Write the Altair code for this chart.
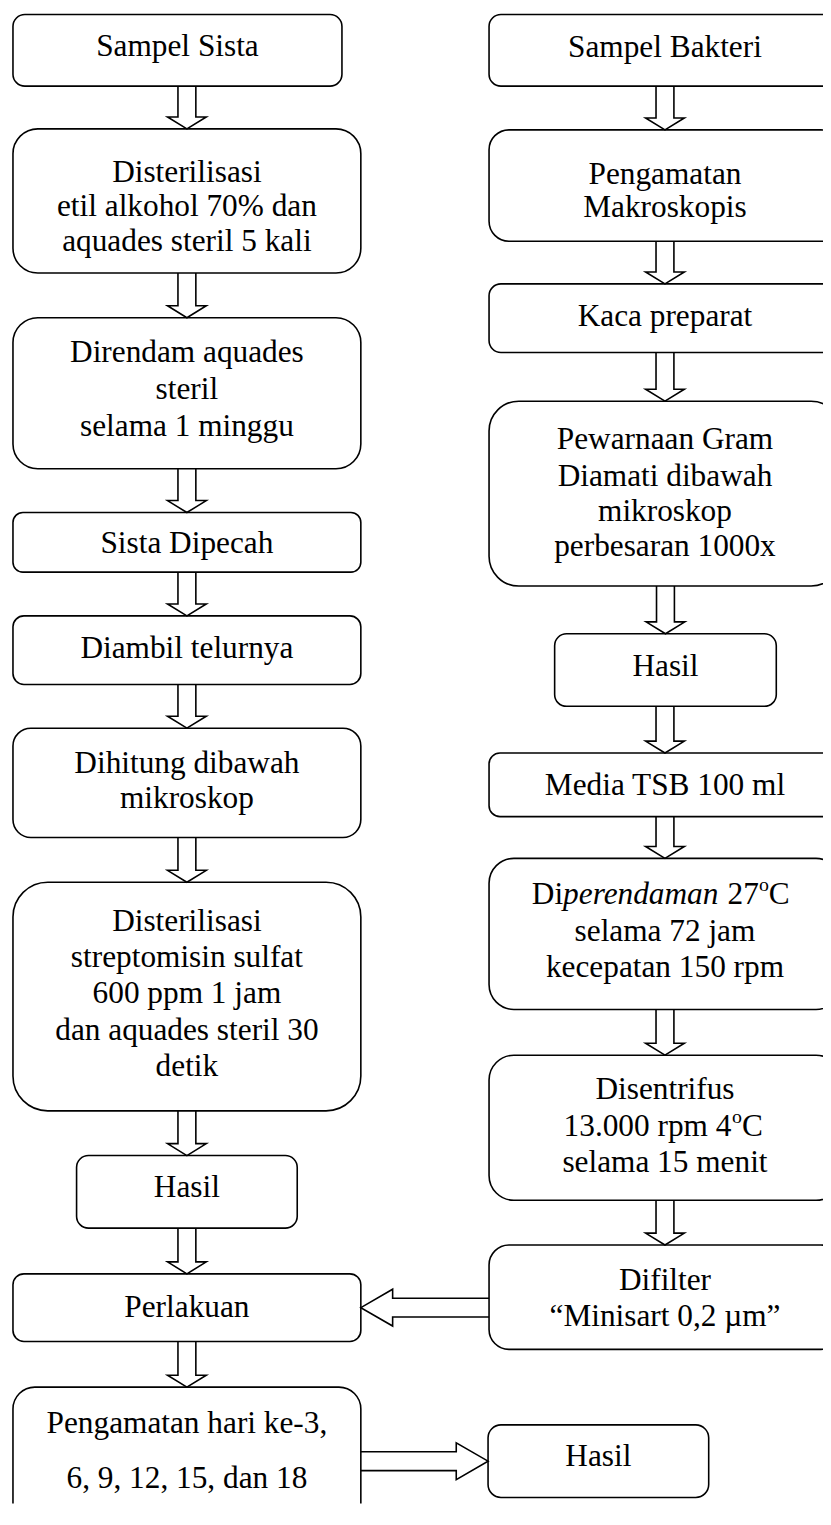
import altair as alt
import pandas as pd

FONT = "Liberation Serif"
FS = 31.5

# ---------------- flowchart content ----------------
box_lines = [
    ["Sampel Sista"],
    ["Disterilisasi", "etil alkohol 70% dan", "aquades steril 5 kali"],
    ["Direndam aquades", "steril", "selama 1 minggu"],
    ["Sista Dipecah"],
    ["Diambil telurnya"],
    ["Dihitung dibawah", "mikroskop"],
    ["Disterilisasi", "streptomisin sulfat", "600 ppm 1 jam", "dan aquades steril 30", "detik"],
    ["Hasil"],
    ["Perlakuan"],
    ["Pengamatan hari ke-3,", "6, 9, 12, 15, dan 18"],
    ["Sampel Bakteri"],
    ["Pengamatan", "Makroskopis"],
    ["Kaca preparat"],
    ["Pewarnaan Gram", "Diamati dibawah", "mikroskop", "perbesaran 1000x"],
    ["Hasil"],
    ["Media TSB 100 ml"],
    [None, "selama 72 jam", "kecepatan 150 rpm"],
    ["Disentrifus", None, "selama 15 menit"],
    ["Difilter", "\u201cMinisart 0,2 \u00b5m\u201d"],
    ["Hasil"],
]

# mixed-style lines (text, style)
rich_lines = [
    [("Di", "normal"), ("perendaman", "italic"), ("27", "normal"), ("o", "sup"), ("C", "normal")],
    [("13.000 rpm 4", "normal"), ("o", "sup"), ("C", "normal")],
]

# ---------------- layout ----------------
box_x0 = [13, 13, 13, 13, 13, 13, 13, 77, 13, 13, 492, 492, 492, 492, 558, 492, 492, 492, 492, 491]
box_x1 = [344, 363, 363, 363, 363, 363, 363, 299, 363, 363, 846, 846, 846, 846, 781, 846, 846, 846, 846, 713]
box_y0 = [10, 125, 315, 511, 615, 728, 883, 1158, 1277, 1391, 10, 126, 281, 399, 633, 753, 859, 1057, 1248, 1429]
box_y1 = [82, 270, 467, 571, 684, 838, 1113, 1231, 1345, 1560, 82, 238, 350, 585, 706, 817, 1011, 1203, 1353, 1502]
box_r = [12, 25, 25, 10, 11, 18, 35, 12, 11, 22, 12, 20, 12, 30, 12, 11, 25, 25, 20, 13]
line_base = [[52], [178, 213, 248], [360, 397, 434], [552], [657], [773, 808],
             [932, 968, 1005, 1042, 1078], [1200], [1320], [1437, 1492],
             [53], [180, 214], [323], [447, 484, 520, 555], [675], [795],
             [905, 942, 978], [1101, 1138, 1175], [1293, 1329], [1470]]
rich_x = [[535, 566.5, 732, 763.5, 773.5], [567, 736.5, 746.5]]
rich_y = [905, 1138]

arrow_from = [0, 1, 2, 3, 4, 5, 6, 7, 8, 10, 11, 12, 13, 14, 15, 16, 17, 18, 9]
arrow_to = [1, 2, 3, 4, 5, 6, 7, 8, 9, 11, 12, 13, 14, 15, 16, 17, 18, 8, 19]

# ---------------- build tables ----------------
boxes = pd.DataFrame({"x0": box_x0, "x1": box_x1, "y0": box_y0, "y1": box_y1, "r": box_r})

rows = []
for i, lines in enumerate(box_lines):
    cx = (box_x0[i] + box_x1[i]) / 2
    for t, b in zip(lines, line_base[i]):
        if t is not None:
            rows.append({"x": cx, "y": b, "t": t})
texts = pd.DataFrame(rows)

rrows = []
for k, pieces in enumerate(rich_lines):
    for (t, st), xx in zip(pieces, rich_x[k]):
        yy = rich_y[k] - 13 if st == "sup" else rich_y[k]
        rrows.append({"x": xx, "y": yy, "t": t, "s": st})
rich = pd.DataFrame(rrows)

prow = []
for a, (f, t) in enumerate(zip(arrow_from, arrow_to)):
    fx0, fx1, fy0, fy1 = box_x0[f], box_x1[f], box_y0[f], box_y1[f]
    tx0, tx1, ty0, ty1 = box_x0[t], box_x1[t], box_y0[t], box_y1[t]
    if fy1 <= ty0:  # vertical, downward
        cx = (tx0 + tx1) / 2
        s, e = fy1, ty0
        sw, hw, hl = 9, 19.5, 12
        base = e - hl
        pts = [(cx - sw, s), (cx - sw, base), (cx - hw, base), (cx, e),
               (cx + hw, base), (cx + sw, base), (cx + sw, s)]
    else:  # horizontal
        cy = (ty0 + ty1) / 2
        if fx0 >= tx1:
            s, e, d = fx0, tx1, -1
        else:
            s, e, d = fx1, tx0, 1
        sw, hw, hl = 9.5, 18.5, 32
        base = e - d * hl
        pts = [(s, cy - sw), (base, cy - sw), (base, cy - hw), (e, cy),
               (base, cy + hw), (base, cy + sw), (s, cy + sw)]
    for j, (px, py) in enumerate(pts):
        prow.append({"a": a, "j": j, "x": px, "y": py})
arrows = pd.DataFrame(prow)

# ---------------- chart ----------------
xs = alt.Scale(domain=[8, 828], nice=False, zero=False)
ys = alt.Scale(domain=[8, 1508], nice=False, zero=False, reverse=True)

layers = []
for r in sorted(set(box_r)):
    layers.append(
        alt.Chart(boxes[boxes.r == r]).mark_rect(
            fill="white", stroke="black", strokeWidth=1.6, cornerRadius=r, clip=True
        ).encode(
            x=alt.X("x0:Q", scale=xs, axis=None), x2="x1:Q",
            y=alt.Y("y0:Q", scale=ys, axis=None), y2="y1:Q",
        )
    )

layers.append(
    alt.Chart(arrows).mark_line(color="black", strokeWidth=1.6, clip=True).encode(
        x=alt.X("x:Q", scale=xs, axis=None),
        y=alt.Y("y:Q", scale=ys, axis=None),
        detail="a:N",
        order=alt.Order("j:Q"),
    )
)

layers.append(
    alt.Chart(texts).mark_text(font=FONT, fontSize=FS, align="center",
                               baseline="alphabetic", color="black").encode(
        x=alt.X("x:Q", scale=xs, axis=None),
        y=alt.Y("y:Q", scale=ys, axis=None),
        text="t:N",
    )
)

for st, style, size in [("normal", "normal", FS), ("italic", "italic", FS), ("sup", "normal", 20)]:
    layers.append(
        alt.Chart(rich[rich.s == st]).mark_text(font=FONT, fontSize=size, fontStyle=style,
                                                 align="left", baseline="alphabetic",
                                                 color="black").encode(
            x=alt.X("x:Q", scale=xs, axis=None),
            y=alt.Y("y:Q", scale=ys, axis=None),
            text="t:N",
        )
    )

chart = alt.layer(*layers).properties(
    width=820, height=1500, padding=0, autosize="none", background="white"
).configure_view(stroke=None)

chart.save("out.html", embed_options={"renderer": "svg", "actions": False})
